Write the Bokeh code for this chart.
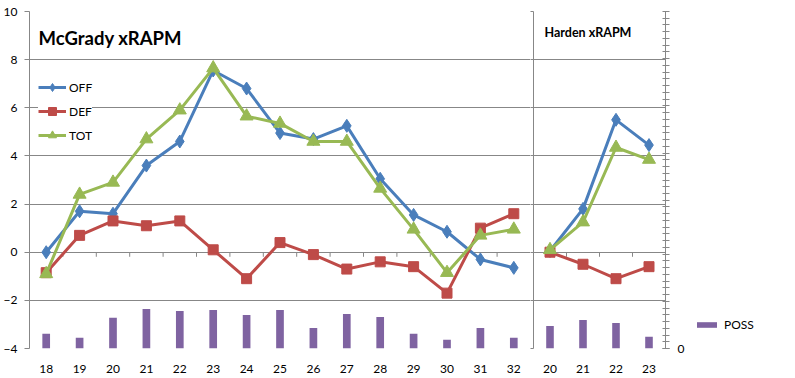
from bokeh.plotting import figure
from bokeh.layouts import row
from bokeh.models import (Range1d, LinearAxis, Legend, LegendItem, Label,
                          FixedTicker, FactorRange)
from bokeh.embed import file_html
from bokeh.resources import INLINE

FONT = "Lato"
GRID = "#878787"
C_OFF, C_DEF, C_TOT, C_POSS = "#4A7EBB", "#BE4B48", "#98B954", "#7F63A1"

# ---------------- data ----------------
mcgrady_seasons = ["18", "19", "20", "21", "22", "23", "24", "25", "26", "27", "28", "29", "30", "31", "32"]
mcgrady_off = [0.0, 1.7, 1.6, 3.6, 4.6, 7.55, 6.8, 4.95, 4.7, 5.25, 3.05, 1.55, 0.85, -0.3, -0.65]
mcgrady_def = [-0.85, 0.7, 1.3, 1.1, 1.3, 0.1, -1.1, 0.4, -0.1, -0.7, -0.4, -0.6, -1.7, 1.0, 1.6]
mcgrady_tot = [-0.9, 2.4, 2.9, 4.7, 5.9, 7.65, 5.65, 5.35, 4.6, 4.6, 2.65, 0.95, -0.85, 0.7, 0.95]
mcgrady_poss = [2200, 1600, 4570, 5860, 5560, 5710, 4970, 5710, 3040, 5120, 4670, 2200, 1300, 3040, 1600]

harden_seasons = ["20", "21", "22", "23"]
harden_off = [0.05, 1.8, 5.5, 4.45]
harden_def = [0.0, -0.5, -1.1, -0.6]
harden_tot = [0.1, 1.25, 4.35, 3.85]
harden_poss = [3340, 4230, 3780, 1750]

y_ticks = [-4, -2, 0, 2, 4, 6, 8, 10]
poss_max = 50000
poss_minor = list(range(0, poss_max + 1, 1000))

FIG_H = 378


def make_fig(seasons, width, bl, br):
    p = figure(x_range=FactorRange(*seasons), y_range=Range1d(-4, 10),
               width=width, height=FIG_H, output_backend="svg",
               toolbar_location=None, min_border_left=bl, min_border_right=br,
               min_border_top=11, min_border_bottom=30)
    p.extra_y_ranges = {"poss": Range1d(0, poss_max)}
    p.outline_line_color = None
    p.background_fill_color = "white"
    p.xgrid.grid_line_color = None
    p.ygrid.ticker = FixedTicker(ticks=y_ticks)
    p.ygrid.grid_line_color = GRID
    p.ygrid.grid_line_width = 1
    p.yaxis.ticker = FixedTicker(ticks=y_ticks)
    p.yaxis.axis_line_color = GRID
    p.yaxis.major_tick_line_color = GRID
    p.yaxis.minor_tick_line_color = None
    p.yaxis.major_tick_in = 0
    p.xaxis.axis_line_color = None
    p.xaxis.major_tick_line_color = None
    p.xaxis.major_label_standoff = 10
    p.xaxis.major_label_text_font = FONT
    p.xaxis.major_label_text_font_size = "12px"
    p.xaxis.major_label_text_color = "black"
    return p


def draw_series(p, seasons, off, de, tot, poss, bar_w):
    bars = p.vbar(x=seasons, top=poss, width=bar_w, y_range_name="poss",
                  fill_color=C_POSS, line_color=None)
    # little tick marks on the zero line between categories
    bounds = list(range(1, len(seasons)))
    p.segment(x0=bounds, y0=[0] * len(bounds), x1=bounds, y1=[-0.19] * len(bounds),
              line_color=GRID, line_width=1)
    lo = p.line(seasons, off, line_color=C_OFF, line_width=3)
    so = p.scatter(seasons, off, marker="diamond", size=13, color=C_OFF)
    ld = p.line(seasons, de, line_color=C_DEF, line_width=3)
    sd = p.scatter(seasons, de, marker="square", size=10, color=C_DEF)
    lt = p.line(seasons, tot, line_color=C_TOT, line_width=3)
    st = p.scatter(seasons, tot, marker="triangle", size=13, color=C_TOT)
    return bars, (lo, so), (ld, sd), (lt, st)


# ---------------- McGrady ----------------
p1 = make_fig(mcgrady_seasons, 530, 29, 0)
p1.yaxis.major_tick_out = 5
p1.yaxis.major_label_standoff = 7
p1.yaxis.major_label_text_font = FONT
p1.yaxis.major_label_text_font_size = "12px"
p1.yaxis.major_label_text_color = "black"
b1, r_off, r_def, r_tot = draw_series(p1, mcgrady_seasons, mcgrady_off, mcgrady_def,
                                      mcgrady_tot, mcgrady_poss, 0.23)

leg = Legend(items=[LegendItem(label="OFF", renderers=list(r_off)),
                    LegendItem(label="DEF", renderers=list(r_def)),
                    LegendItem(label="TOT", renderers=list(r_tot))],
             location=(9, 203), orientation="vertical",
             glyph_width=28, glyph_height=20, label_height=20, spacing=4,
             padding=8, margin=0, label_standoff=3,
             label_text_font=FONT, label_text_font_size="12px",
             label_text_color="black",
             background_fill_color="white", background_fill_alpha=1,
             border_line_color=None)
p1.add_layout(leg)

p1.add_layout(Label(x=9, y=311, x_units="screen", y_units="screen",
                    text="McGrady xRAPM", text_font=FONT, text_font_style="bold",
                    text_font_size="18.5px", text_color="black",
                    text_baseline="alphabetic"))

# ---------------- Harden ----------------
p2 = make_fig(harden_seasons, 157, 2, 20)
p2.yaxis.major_tick_out = 3
p2.yaxis.major_label_standoff = 0
p2.yaxis.major_label_overrides = {t: "" for t in y_ticks}
b2, _, _, _ = draw_series(p2, harden_seasons, harden_off, harden_def,
                          harden_tot, harden_poss, 0.23)

ax2 = LinearAxis(y_range_name="poss",
                 ticker=FixedTicker(ticks=[0], minor_ticks=poss_minor),
                 axis_line_color=GRID, major_tick_line_color=GRID,
                 minor_tick_line_color=GRID, major_tick_in=3, major_tick_out=4,
                 minor_tick_in=3, minor_tick_out=4, major_label_standoff=8,
                 major_label_text_font=FONT, major_label_text_font_size="12px",
                 major_label_text_color="black")
p2.add_layout(ax2, "right")

p2.add_layout(Label(x=11, y=316, x_units="screen", y_units="screen",
                    text="Harden xRAPM", text_font=FONT, text_font_style="bold",
                    text_font_size="12.5px", text_color="black",
                    text_baseline="alphabetic"))

# ---------------- POSS legend panel ----------------
p3 = figure(width=108, height=FIG_H, output_backend="svg", toolbar_location=None,
            x_axis_location=None, y_axis_location=None,
            x_range=Range1d(0, 1), y_range=Range1d(0, 1),
            min_border_left=0, min_border_right=0, min_border_top=0,
            min_border_bottom=0)
p3.grid.grid_line_color = None
p3.outline_line_color = None
# legend-only proxy (NaN => nothing drawn in the plot area)
proxy = p3.vbar(x=[float("nan")], top=[float("nan")], width=0.1,
                fill_color=C_POSS, line_color=None)
leg2 = Legend(items=[LegendItem(label="POSS", renderers=[proxy])],
              location=(7, 16), glyph_width=25, glyph_height=7,
              label_height=14, padding=0, margin=0, label_standoff=5,
              label_text_font=FONT, label_text_font_size="12px",
              label_text_color="black", background_fill_alpha=0,
              border_line_color=None)
p3.add_layout(leg2)

layout = row(p1, p2, p3, spacing=0)
open("out.html", "w").write(file_html(layout, INLINE))
